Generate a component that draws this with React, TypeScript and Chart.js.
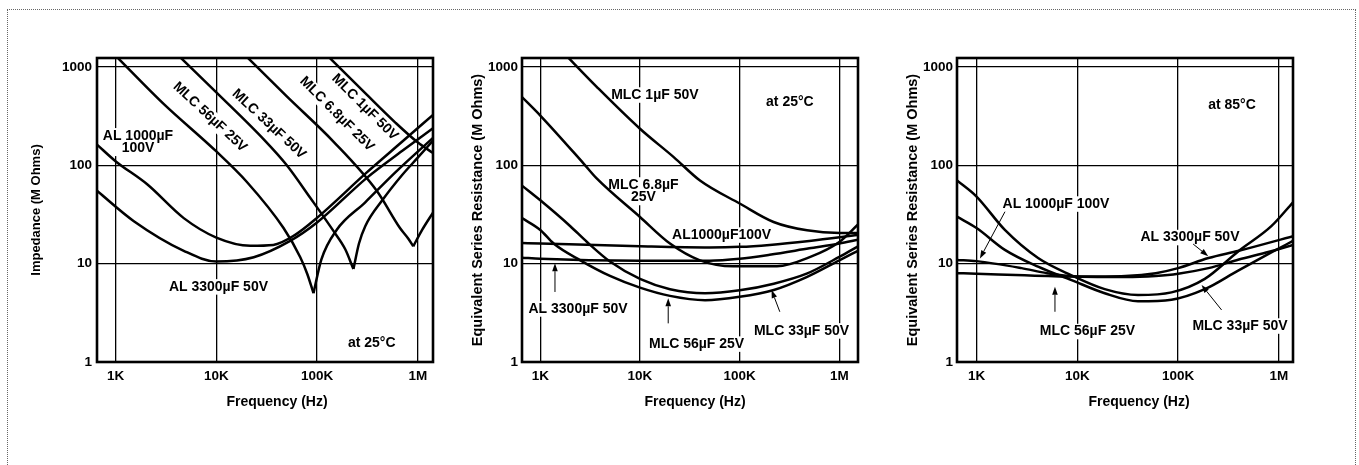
import React, { useEffect, useRef } from "react";
import { Chart, registerables } from "chart.js";

Chart.register(...registerables);

const FONT = '"Liberation Sans", Arial, Helvetica, sans-serif';
const INK = "#000";
const WEIGHT = "bold";

// ---- axes ----
const FREQ_TICKS = [1e3, 1e4, 1e5, 1e6];
const FREQ_TICK_LABELS = ["1K", "10K", "100K", "1M"];
const OHM_TICKS = [1, 10, 100, 1000];
const OHM_TICK_LABELS = ["1", "10", "100", "1000"];

// ---- panel 1: impedance at 25°C (mOhms vs Hz) ----
const P1_AL1000_F = [655, 1000, 2060, 4750, 10000, 21700, 36700, 60000, 99000, 309000, 700000, 1410000];
const P1_AL1000_Z = [162, 110, 64, 29, 18.4, 15.2, 15.5, 19.5, 29, 84, 174, 325];
const P1_AL3300_F = [655, 1520, 4750, 10000, 23500, 54000, 99000, 309000, 700000, 1410000];
const P1_AL3300_Z = [55, 27, 13.5, 10.5, 11.6, 17, 26, 74, 140, 238];
const P1_MLC56_FALL_F = [1000, 3000, 10000, 20000, 46400, 68000, 80000, 92000];
const P1_MLC56_FALL_Z = [1300, 420, 138, 68, 23, 11.6, 7.8, 5];
const P1_MLC56_RISE_F = [92000, 110000, 156000, 300000, 600000, 1410000];
const P1_MLC56_RISE_Z = [5, 11, 22, 42, 85, 190];
const P1_MLC33_FALL_F = [4000, 10000, 30000, 50000, 85000, 145000, 190000, 229000];
const P1_MLC33_FALL_Z = [1370, 550, 180, 100, 47, 21.5, 14, 8.8];
const P1_MLC33_RISE_F = [229000, 260000, 300000, 450000, 700000, 1000000, 1410000];
const P1_MLC33_RISE_Z = [8.8, 16, 24, 45, 80, 120, 178];
const P1_MLC68_FALL_F = [18000, 50000, 145000, 390000, 663000, 800000, 898000];
const P1_MLC68_FALL_Z = [1410, 500, 174, 55, 23, 18, 15];
const P1_MLC68_RISE_F = [898000, 1100000, 1410000];
const P1_MLC68_RISE_Z = [15, 22, 33];
const P1_MLC1_F = [120000, 300000, 600000, 1000000, 1410000];
const P1_MLC1_Z = [1370, 540, 270, 170, 133];

// ---- panel 2: ESR at 25°C ----
const P2_MLC1_F = [1700, 3700, 10000, 21800, 40000, 101000, 219000, 474000, 1010000, 1540000];
const P2_MLC1_R = [1400, 623, 235, 121, 70, 40.6, 26.5, 21.8, 20.5, 20.5];
const P2_MLC68_F = [655, 1000, 2720, 3700, 10000, 20000, 40000, 86000, 237000, 512000, 1000000, 1540000];
const P2_MLC68_R = [493, 320, 104, 73, 29.8, 16, 10.8, 9.4, 9.4, 11.7, 16.6, 25];
const P2_AL1000_F = [655, 1000, 10000, 50000, 100000, 200000, 500000, 1540000];
const P2_AL1000_R = [16.2, 16, 15, 14.6, 14.8, 15.5, 17, 19.5];
const P2_AL3300_F = [655, 1000, 10000, 50000, 100000, 200000, 500000, 1000000, 1540000];
const P2_AL3300_R = [11.5, 11.2, 10.7, 10.7, 11.2, 12.3, 14.3, 16, 17.5];
const P2_MLC33_F = [655, 1000, 2000, 2940, 5000, 10000, 20000, 45000, 100000, 220000, 470000, 1000000, 1540000];
const P2_MLC33_R = [62, 44, 24, 16.6, 10.5, 7.0, 5.5, 5.0, 5.35, 6.25, 7.9, 11.7, 15];
const P2_MLC56_F = [655, 1000, 1360, 2520, 5000, 10000, 20000, 45000, 100000, 220000, 470000, 1000000, 1540000];
const P2_MLC56_R = [29, 22, 16, 10.8, 7.5, 5.7, 4.7, 4.25, 4.6, 5.4, 7.3, 10.8, 13.5];

// ---- panel 3: ESR at 85°C ----
const P3_MLC33_F = [640, 1000, 1910, 4080, 8750, 18700, 40000, 86000, 184000, 394000, 841000, 1380000];
const P3_MLC33_R = [70, 48, 22, 11.4, 7.6, 5.5, 4.8, 5.1, 7.0, 13.3, 24, 42];
const P3_MLC56_F = [640, 1000, 1910, 4080, 8750, 18700, 40000, 86000, 184000, 394000, 841000, 1380000];
const P3_MLC56_R = [30, 23, 13.8, 9.3, 6.8, 5.0, 4.15, 4.3, 5.5, 8.5, 13, 17];
const P3_AL1000_F = [640, 1000, 2800, 5000, 10000, 30000, 60000, 100000, 200000, 400000, 800000, 1380000];
const P3_AL1000_R = [10.9, 10.6, 9.0, 8.0, 7.4, 7.3, 7.5, 7.9, 9.0, 11, 13.2, 15.5];
const P3_AL3300_F = [640, 1000, 3000, 10000, 30000, 60000, 100000, 200000, 400000, 1380000];
const P3_AL3300_R = [8.0, 7.9, 7.6, 7.4, 7.5, 8.0, 9.0, 11.4, 13.5, 19];

// ---- layout ----
const CANVAS_TOP = 20;
const CANVAS_H = 420;
const AREA_TOP = 58;
const AREA_BOTTOM = 362;
const PAD_RIGHT = 20;
const X_AXIS_H = CANVAS_H - (AREA_TOP - CANVAS_TOP) - (AREA_BOTTOM - AREA_TOP);
const TICK_SIZE = 13.5;
const NOTE_SIZE = 14;
const XTITLE_SIZE = 14;
const LINE_GAP = 12.5;

type Curve = { f: number[]; v: number[] };
type Note = { lines: string[]; f: number; v: number; rot?: number };
type Arrow = { f0: number; v0: number; f1: number; v1: number };
type Panel = {
  areaLeft: number;
  areaRight: number;
  titleX: number;
  yTitle: string;
  yTitleSize: number;
  tickPad: number;
  xMin: number;
  xMax: number;
  xTitleShift: number;
  curves: Curve[];
  notes: Note[];
  arrows: Arrow[];
};

const PANELS: Panel[] = [
  {
    areaLeft: 97,
    areaRight: 433,
    titleX: 37,
    yTitle: "Impedance (M Ohms)",
    yTitleSize: 13,
    tickPad: 5,
    xMin: 655,
    xMax: 1410000,
    xTitleShift: 12,
    curves: [
      { f: P1_AL1000_F, v: P1_AL1000_Z },
      { f: P1_AL3300_F, v: P1_AL3300_Z },
      { f: P1_MLC56_FALL_F, v: P1_MLC56_FALL_Z },
      { f: P1_MLC56_RISE_F, v: P1_MLC56_RISE_Z },
      { f: P1_MLC33_FALL_F, v: P1_MLC33_FALL_Z },
      { f: P1_MLC33_RISE_F, v: P1_MLC33_RISE_Z },
      { f: P1_MLC68_FALL_F, v: P1_MLC68_FALL_Z },
      { f: P1_MLC68_RISE_F, v: P1_MLC68_RISE_Z },
      { f: P1_MLC1_F, v: P1_MLC1_Z },
    ],
    notes: [
      { lines: ["AL 1000\u00b5F", "100V"], f: 1670, v: 172 },
      { lines: ["MLC 56\u00b5F 25V"], f: 8650, v: 309, rot: 43 },
      { lines: ["MLC 33\u00b5F 50V"], f: 33300, v: 262, rot: 43 },
      { lines: ["MLC 6.8\u00b5F 25V"], f: 157000, v: 331, rot: 45 },
      { lines: ["MLC 1\u00b5F 50V"], f: 298000, v: 388, rot: 45 },
      { lines: ["AL 3300\u00b5F 50V"], f: 10500, v: 5.8 },
      { lines: ["at 25\u00b0C"], f: 348000, v: 1.56 },
    ],
    arrows: [],
  },
  {
    areaLeft: 522,
    areaRight: 858,
    titleX: 478,
    yTitle: "Equivalent Series Resistance (M Ohms)",
    yTitleSize: 14.5,
    tickPad: 4,
    xMin: 655,
    xMax: 1540000,
    xTitleShift: 5,
    curves: [
      { f: P2_MLC1_F, v: P2_MLC1_R },
      { f: P2_MLC68_F, v: P2_MLC68_R },
      { f: P2_AL1000_F, v: P2_AL1000_R },
      { f: P2_AL3300_F, v: P2_AL3300_R },
      { f: P2_MLC33_F, v: P2_MLC33_R },
      { f: P2_MLC56_F, v: P2_MLC56_R },
    ],
    notes: [
      { lines: ["MLC 1\u00b5F 50V"], f: 14100, v: 517 },
      { lines: ["at 25\u00b0C"], f: 319000, v: 434 },
      { lines: ["MLC 6.8\u00b5F", "25V"], f: 10830, v: 54.4 },
      { lines: ["AL1000\u00b5F100V"], f: 65900, v: 19.5 },
      { lines: ["AL 3300\u00b5F 50V"], f: 2390, v: 3.46 },
      { lines: ["MLC 56\u00b5F 25V"], f: 37000, v: 1.52 },
      { lines: ["MLC 33\u00b5F 50V"], f: 418000, v: 2.07 },
    ],
    arrows: [
      { f0: 1403, v0: 5.15, f1: 1403, v1: 10.1 },
      { f0: 19200, v0: 2.47, f1: 19200, v1: 4.44 },
      { f0: 253000, v0: 3.24, f1: 209000, v1: 5.39 },
    ],
  },
  {
    areaLeft: 957,
    areaRight: 1293,
    titleX: 913,
    yTitle: "Equivalent Series Resistance (M Ohms)",
    yTitleSize: 14.5,
    tickPad: 4,
    xMin: 640,
    xMax: 1380000,
    xTitleShift: 14,
    curves: [
      { f: P3_MLC33_F, v: P3_MLC33_R },
      { f: P3_MLC56_F, v: P3_MLC56_R },
      { f: P3_AL1000_F, v: P3_AL1000_R },
      { f: P3_AL3300_F, v: P3_AL3300_R },
    ],
    notes: [
      { lines: ["at 85\u00b0C"], f: 342000, v: 409 },
      { lines: ["AL 1000\u00b5F 100V"], f: 6140, v: 40.3 },
      { lines: ["AL 3300\u00b5F 50V"], f: 131000, v: 18.4 },
      { lines: ["MLC 56\u00b5F 25V"], f: 12600, v: 2.04 },
      { lines: ["MLC 33\u00b5F 50V"], f: 411000, v: 2.32 },
    ],
    arrows: [
      { f0: 1915, v0: 33.7, f1: 1081, v1: 11.3 },
      { f0: 141000, v0: 15.8, f1: 199000, v1: 11.9 },
      { f0: 6000, v0: 3.24, f1: 6000, v1: 5.82 },
      { f0: 270000, v0: 3.38, f1: 171000, v1: 6.06 },
    ],
  },
];

function canvasLeftOf(p: Panel) {
  return Math.round(p.titleX - 4 - (p.yTitleSize * 1.2) / 2);
}

function makePlugin(p: Panel) {
  return {
    id: "annotations",
    beforeDatasetsDraw(chart: any) {
      const { ctx } = chart;
      const xs = chart.scales.x;
      const ys = chart.scales.y;
      ctx.save();
      ctx.font = `${WEIGHT} ${NOTE_SIZE}px ${FONT}`;
      ctx.fillStyle = "#fff";
      for (const n of p.notes) {
        const cx = xs.getPixelForValue(n.f);
        const cy = ys.getPixelForValue(n.v);
        const w = Math.max(...n.lines.map((l) => ctx.measureText(l).width));
        const h = n.lines.length * LINE_GAP;
        ctx.save();
        ctx.translate(cx, cy);
        ctx.rotate(((n.rot || 0) * Math.PI) / 180);
        ctx.fillRect(-w / 2 - 3, -h / 2 - 1.5, w + 6, h + 3);
        ctx.restore();
      }
      ctx.restore();
    },
    afterDatasetsDraw(chart: any) {
      const { ctx, chartArea: a } = chart;
      const xs = chart.scales.x;
      const ys = chart.scales.y;
      ctx.save();
      // frame
      ctx.strokeStyle = INK;
      ctx.lineWidth = 2.6;
      ctx.strokeRect(a.left, a.top, a.right - a.left, a.bottom - a.top);
      // notes
      ctx.fillStyle = INK;
      ctx.font = `${WEIGHT} ${NOTE_SIZE}px ${FONT}`;
      ctx.textAlign = "center";
      ctx.textBaseline = "middle";
      for (const n of p.notes) {
        const cx = xs.getPixelForValue(n.f);
        const cy = ys.getPixelForValue(n.v);
        ctx.save();
        ctx.translate(cx, cy);
        ctx.rotate(((n.rot || 0) * Math.PI) / 180);
        n.lines.forEach((l, i) => {
          ctx.fillText(l, 0, (i - (n.lines.length - 1) / 2) * LINE_GAP);
        });
        ctx.restore();
      }
      // arrows
      ctx.strokeStyle = INK;
      ctx.lineWidth = 1;
      for (const ar of p.arrows) {
        const x0 = xs.getPixelForValue(ar.f0);
        const y0 = ys.getPixelForValue(ar.v0);
        const x1 = xs.getPixelForValue(ar.f1);
        const y1 = ys.getPixelForValue(ar.v1);
        const ang = Math.atan2(y1 - y0, x1 - x0);
        const hl = 8;
        const hw = 2.8;
        const bx = x1 - hl * Math.cos(ang);
        const by = y1 - hl * Math.sin(ang);
        ctx.beginPath();
        ctx.moveTo(x0, y0);
        ctx.lineTo(bx, by);
        ctx.stroke();
        ctx.beginPath();
        ctx.moveTo(x1, y1);
        ctx.lineTo(bx + hw * Math.sin(ang), by - hw * Math.cos(ang));
        ctx.lineTo(bx - hw * Math.sin(ang), by + hw * Math.cos(ang));
        ctx.closePath();
        ctx.fill();
      }
      // x title
      ctx.font = `${WEIGHT} ${XTITLE_SIZE}px ${FONT}`;
      ctx.fillText("Frequency (Hz)", (a.left + a.right) / 2 + p.xTitleShift, a.bottom + 40);
      ctx.restore();
    },
  };
}

function PanelChart({ panel }: { panel: Panel }) {
  const ref = useRef<HTMLCanvasElement | null>(null);
  const left = canvasLeftOf(panel);
  const width = panel.areaRight + PAD_RIGHT - left;
  const yAxisWidth = panel.areaLeft - left;

  useEffect(() => {
    if (!ref.current) return;
    Chart.defaults.font.family = FONT;
    const chart = new Chart(ref.current, {
      type: "line",
      data: {
        datasets: panel.curves.map((c) => ({
          data: c.f.map((f, i) => ({ x: f, y: c.v[i] })),
          borderColor: INK,
          borderWidth: 2.5,
          pointRadius: 0,
          fill: false,
          cubicInterpolationMode: "monotone",
        })),
      },
      options: {
        animation: false,
        responsive: false,
        maintainAspectRatio: false,
        events: [],
        layout: { padding: { left: 0, right: PAD_RIGHT, top: AREA_TOP - CANVAS_TOP, bottom: 0 } },
        plugins: {
          legend: { display: false },
          tooltip: { enabled: false },
          title: { display: false },
        },
        scales: {
          x: {
            type: "logarithmic",
            position: "bottom",
            min: panel.xMin,
            max: panel.xMax,
            bounds: "data",
            afterBuildTicks: (s: any) => {
              s.ticks = FREQ_TICKS.map((v) => ({ value: v }));
            },
            afterFit: (s: any) => {
              s.height = X_AXIS_H;
            },
            ticks: {
              autoSkip: false,
              maxRotation: 0,
              padding: 6,
              color: INK,
              font: { size: TICK_SIZE, family: FONT, weight: WEIGHT },
              callback: (_v: any, i: number) => FREQ_TICK_LABELS[i],
            },
            grid: { color: INK, lineWidth: 1.3, drawTicks: false },
            border: { display: false },
          },
          y: {
            type: "logarithmic",
            position: "left",
            min: 1,
            max: 1230,
            bounds: "data",
            afterBuildTicks: (s: any) => {
              s.ticks = OHM_TICKS.map((v) => ({ value: v }));
            },
            afterFit: (s: any) => {
              s.width = yAxisWidth;
            },
            ticks: {
              autoSkip: false,
              padding: panel.tickPad,
              color: INK,
              font: { size: TICK_SIZE, family: FONT, weight: WEIGHT },
              callback: (_v: any, i: number) => OHM_TICK_LABELS[i],
            },
            title: {
              display: true,
              text: panel.yTitle,
              color: INK,
              font: { size: panel.yTitleSize, family: FONT, weight: WEIGHT },
              padding: { top: 4, bottom: 4 },
            },
            grid: { color: INK, lineWidth: 1.3, drawTicks: false },
            border: { display: false },
          },
        },
      } as any,
      plugins: [makePlugin(panel) as any],
    } as any);
    return () => chart.destroy();
  }, [panel]);

  return (
    <canvas
      ref={ref}
      width={width}
      height={CANVAS_H}
      style={{ position: "absolute", left, top: CANVAS_TOP, width, height: CANVAS_H }}
    />
  );
}

export default function App() {
  return (
    <div
      style={{
        position: "fixed",
        left: 0,
        top: 0,
        width: 1359,
        height: 465,
        background: "#fff",
        overflow: "hidden",
      }}
    >
      <div
        style={{
          position: "absolute",
          left: 7,
          top: 9,
          width: 1349,
          height: 470,
          border: "1px dotted #666",
          boxSizing: "border-box",
        }}
      />
      {PANELS.map((p, i) => (
        <PanelChart key={i} panel={p} />
      ))}
    </div>
  );
}
